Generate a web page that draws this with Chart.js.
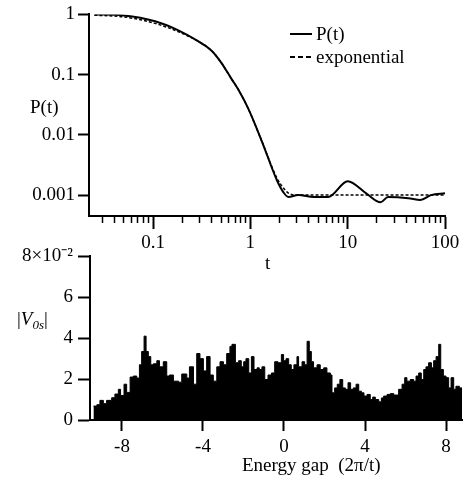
<!DOCTYPE html>
<html lang="en">
<head>
<meta charset="UTF-8">
<title>P(t) and |V0s|</title>
<script src="https://cdn.jsdelivr.net/npm/chart.js/dist/chart.umd.min.js"></script>
<style>
body { margin: 0; background: #fff; }
#wrap { position: relative; width: 464px; height: 482px; overflow: hidden; font-family: "Liberation Serif", serif; color: #000; }
canvas { position: absolute; left: 0; }
#topChart { top: 0; }
#botChart { top: 240px; }
.lbl { position: absolute; font-size: 19px; line-height: 20px; white-space: nowrap; }
.lbl sub { font-size: 13px; vertical-align: -4px; line-height: 0; }
</style>
</head>
<body>
<div id="wrap">
    <canvas id="topChart" width="464" height="250"></canvas>
    <canvas id="botChart" width="464" height="242"></canvas>

    <!-- axis titles + legend -->
    <div class="lbl" style="left:30px; top:97px;">P(t)</div>
    <div class="lbl" style="left:265px; top:253px;">t</div>
    <div class="lbl" style="left:17px; top:309px;">|<i>V</i><sub><i>0s</i></sub>|</div>
    <div class="lbl" style="left:242px; top:455px;">Energy gap&nbsp; (2π/t)</div>

    <svg style="position:absolute; left:288px; top:24px;" width="26" height="40">
        <line x1="2" y1="10" x2="24" y2="10" stroke="#000" stroke-width="2"/>
        <line x1="2" y1="33" x2="24" y2="33" stroke="#000" stroke-width="2" stroke-dasharray="5,3"/>
    </svg>
    <div class="lbl" style="left:316px; top:24px;">P(t)</div>
    <div class="lbl" style="left:316px; top:47px;">exponential</div>
</div>

<script>
// ---- top panel: survival probability ----
const tValues = [0.025, 0.05, 0.105, 0.18, 0.29, 0.4, 0.5, 0.64, 0.75, 0.955, 1.31, 1.88, 2.2, 2.46, 3.1, 4.5, 6.3, 10, 15.5, 21.8, 26, 42, 56, 72, 100];
const pValues = [1.0, 0.96, 0.77, 0.55, 0.36, 0.25, 0.16, 0.085, 0.057, 0.027, 0.0079, 0.00175, 0.0011, 0.00093, 0.001, 0.00093, 0.00093, 0.0017, 0.00107, 0.00076, 0.00093, 0.00089, 0.00083, 0.001, 0.00107];

const tExp = [0.025, 0.05, 0.105, 0.18, 0.29, 0.4, 0.5, 0.64, 0.75, 0.955, 1.31, 1.88, 2.2, 2.46, 3.1, 100];
const pExp = [0.97, 0.91, 0.71, 0.52, 0.36, 0.25, 0.16, 0.085, 0.057, 0.027, 0.0079, 0.0019, 0.0013, 0.00108, 0.001, 0.001];

const tTicks = [0.03, 0.04, 0.05, 0.06, 0.07, 0.08, 0.09, 0.1, 0.2, 0.3, 0.4, 0.5, 0.6, 0.7, 0.8, 0.9, 1, 2, 3, 4, 5, 6, 7, 8, 9, 10, 20, 30, 40, 50, 60, 70, 80, 90, 100];
const tMajor = [0.1, 1, 10, 100];
const tMajorLabels = ['0.1', '1', '10', '100'];
const pTicks = [0.001, 0.01, 0.1, 1];
const pTickLabels = ['0.001', '0.01', '0.1', '1'];

// ---- bottom panel: |V0s| histogram (units of 1e-2), left edge of each step ----
const gapEdges = [-9.41, -9.24, -9.09, -8.92, -8.76, -8.51, -8.35, -8.18, -8.07, -7.90, -7.77, -7.60, -7.44, -7.27, -7.14, -7.03, -6.91, -6.81, -6.70, -6.58, -6.45, -6.28, -6.15, -5.96, -5.79, -5.66, -5.46, -5.21, -5.05, -4.80, -4.67, -4.47, -4.31, -4.15, -3.98, -3.82, -3.65, -3.49, -3.32, -3.16, -2.99, -2.83, -2.67,
    -2.57, -2.40, -2.24, -2.11, -1.99, -1.88, -1.74, -1.61, -1.48, -1.33, -1.22, -1.09, -0.95, -0.79, -0.62, -0.46, -0.30, -0.13, -0.02, 0.10, 0.23, 0.36, 0.49, 0.64, 0.72, 0.89, 1.02, 1.14, 1.25, 1.35, 1.46, 1.63, 1.79, 1.96, 2.12, 2.29,
    2.37, 2.50, 2.63, 2.76, 2.90, 3.03, 3.16, 3.29, 3.42, 3.56, 3.69, 3.82, 3.95, 4.10, 4.26, 4.38, 4.51, 4.68, 4.81, 4.92, 5.09, 5.25, 5.42, 5.66, 5.83, 5.96, 6.07, 6.24, 6.40, 6.52, 6.65, 6.78, 6.90, 7.01, 7.14, 7.28, 7.39, 7.51, 7.64, 7.74, 7.87, 8.00, 8.13, 8.25, 8.38, 8.49, 8.66];
const v0s = [0.68, 0.75, 0.96, 0.80, 0.96, 1.09, 1.27, 1.50, 1.20, 1.75, 1.35, 2.10, 2.15, 2.05, 2.70, 3.35, 4.10, 3.35, 3.10, 2.70, 2.75, 2.90, 2.60, 2.85, 2.15, 2.20, 1.90, 1.85, 2.25, 2.05, 2.60, 1.75, 3.25, 3.00, 2.40, 3.10, 2.20, 1.90, 2.60, 2.85, 2.70, 3.25, 3.60,
    3.70, 2.80, 2.90, 2.60, 2.85, 3.00, 2.30, 3.10, 2.47, 2.55, 2.47, 2.60, 1.98, 2.20, 2.30, 2.85, 2.80, 3.20, 2.90, 3.00, 2.70, 2.47, 2.70, 3.10, 2.60, 2.85, 2.70, 3.85, 3.35, 2.85, 2.55, 2.70, 2.47, 2.55, 2.30, 2.20,
    1.33, 1.57, 1.75, 1.98, 1.57, 1.50, 1.82, 1.50, 1.57, 1.75, 1.41, 1.33, 1.17, 1.25, 1.00, 1.12, 1.00, 0.89, 1.08, 1.17, 1.25, 1.29, 1.22, 1.50, 1.75, 2.07, 1.90, 1.98, 1.90, 2.15, 2.30, 1.98, 2.47, 2.60, 2.80, 2.55, 2.90, 3.10, 3.70, 2.47, 2.15, 2.07, 1.57, 2.07, 1.50, 1.65, 1.57];
const gapEnd = 8.79;
const gapTicks = [-8, -4, 0, 4, 8];
const vTicks = [0, 2, 4, 6, 8];
const vTickLabels = ['0', '2', '4', '6', '8×10⁻²'];

Chart.defaults.font.family = '"Liberation Serif", serif';
Chart.defaults.font.size = 19;
Chart.defaults.color = '#000';

const axisBorder = { display: true, color: '#000', width: 2 };

new Chart(document.getElementById('topChart'), {
    type: 'line',
    data: {
        datasets: [{
            label: 'P(t)',
            data: tValues.map((t, i) => ({ x: t, y: pValues[i] })),
            borderColor: '#000',
            borderWidth: 2,
            pointRadius: 0,
            cubicInterpolationMode: 'monotone'
        }, {
            label: 'exponential',
            data: tExp.map((t, i) => ({ x: t, y: pExp[i] })),
            borderColor: '#000',
            borderWidth: 1.5,
            borderDash: [3, 2],
            pointRadius: 0,
            cubicInterpolationMode: 'monotone'
        }]
    },
    options: {
        responsive: false,
        animation: false,
        layout: { padding: { top: 11, right: 19, left: 0, bottom: 0 } },
        plugins: { legend: { display: false }, tooltip: { enabled: false } },
        scales: {
            x: {
                type: 'logarithmic',
                min: 0.022,
                max: 100,
                afterBuildTicks: s => { s.ticks = tTicks.map(v => ({ value: v })); },
                afterFit: s => { s.height = 34; },
                border: axisBorder,
                grid: {
                    drawOnChartArea: false,
                    tickColor: '#000',
                    tickLength: 13,
                    tickWidth: c => tMajor.includes(c.tick.value) ? 2 : 1.5,
                    // minor ticks are short: only the first 6px of the tick is drawn
                    tickBorderDash: c => tMajor.includes(c.tick.value) ? [] : [6, 20]
                },
                ticks: {
                    autoSkip: false,
                    maxRotation: 0,
                    padding: 3,
                    callback: v => { const i = tMajor.indexOf(v); return i < 0 ? '' : tMajorLabels[i]; }
                }
            },
            y: {
                type: 'logarithmic',
                min: 0.00045,
                max: 1,
                afterBuildTicks: s => { s.ticks = pTicks.map(v => ({ value: v })); },
                afterFit: s => { s.width = 89; },
                border: axisBorder,
                grid: { drawOnChartArea: false, tickColor: '#000', tickLength: 11, tickWidth: 2 },
                ticks: {
                    padding: 3,
                    callback: v => { const i = pTicks.indexOf(v); return i < 0 ? '' : pTickLabels[i]; }
                }
            }
        }
    }
});

new Chart(document.getElementById('botChart'), {
    type: 'line',
    data: {
        datasets: [{
            label: '|V0s|',
            data: gapEdges.map((g, i) => ({ x: g, y: v0s[i] })).concat([{ x: gapEnd, y: v0s[v0s.length - 1] }]),
            stepped: 'before',
            fill: 'origin',
            backgroundColor: '#000',
            borderColor: '#000',
            borderWidth: 1,
            pointRadius: 0
        }]
    },
    options: {
        responsive: false,
        animation: false,
        layout: { padding: { top: 15, right: 2, left: 0, bottom: 0 } },
        plugins: { legend: { display: false }, tooltip: { enabled: false } },
        scales: {
            x: {
                type: 'linear',
                min: -9.58,
                max: 8.79,
                afterBuildTicks: s => { s.ticks = gapTicks.map(v => ({ value: v })); },
                afterFit: s => { s.height = 62; },
                border: axisBorder,
                grid: { drawOnChartArea: false, tickColor: '#000', tickLength: 11, tickWidth: 2 },
                ticks: { maxRotation: 0, padding: 5, callback: v => String(v) }
            },
            y: {
                min: 0,
                max: 8,
                afterBuildTicks: s => { s.ticks = vTicks.map(v => ({ value: v })); },
                afterFit: s => { s.width = 90; },
                border: axisBorder,
                grid: { drawOnChartArea: false, tickColor: '#000', tickLength: 12, tickWidth: 2 },
                ticks: {
                    padding: 5,
                    callback: v => { const i = vTicks.indexOf(v); return i < 0 ? '' : vTickLabels[i]; }
                }
            }
        }
    }
});
</script>
</body>
</html>
